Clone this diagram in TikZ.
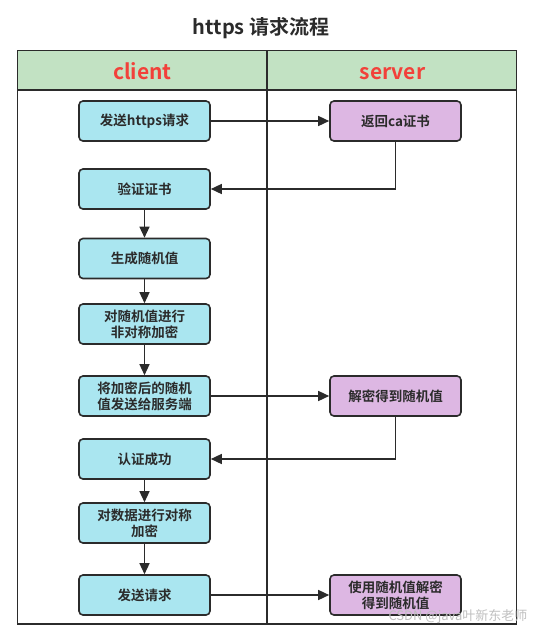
\documentclass[tikz,border=0pt]{standalone}
\usepackage{fontspec}
\setmainfont{Noto Sans CJK SC}
\newfontfamily\boldcjk{Noto Sans CJK SC Bold}
\usetikzlibrary{positioning,arrows.meta}
\definecolor{laneline}{HTML}{2B2B2B}
\definecolor{clientfill}{HTML}{AAE6F0}
\definecolor{serverfill}{HTML}{DDB7E3}
\definecolor{headfill}{HTML}{C2E2C3}
\definecolor{headtext}{HTML}{F2413A}
\tikzset{
  clientbox/.style={draw=laneline,line width=1.6pt,rounded corners=4pt,fill=clientfill,
    minimum width=131pt,minimum height=40pt,inner sep=0pt,align=center,
    text=laneline,font=\boldcjk\fontsize{13.5}{16}\selectfont},
  serverbox/.style={clientbox,fill=serverfill},
  flow/.style={draw=laneline,line width=1.4pt,-{Triangle[length=11pt,width=10pt]}},
  lanehead/.style={anchor=base,text=headtext,font=\boldcjk\fontsize{21}{24}\selectfont},
}

\begin{document}
\begin{tikzpicture}[x=1pt,y=-1pt]
\useasboundingbox (0,0) rectangle (552,641);
\pgfmathsetmacro{\clientx}{144.5}
\pgfmathsetmacro{\serverx}{395.5}
\fill[headfill] (17.5,50.5) rectangle (516.5,90);
\draw[laneline,line width=1.6pt] (17.5,50.5) rectangle (516.5,624);
\draw[laneline,line width=1.6pt] (17.5,90) -- (516.5,90);
\draw[laneline,line width=1.6pt] (267,50.5) -- (267,624);
\node[anchor=base,text=laneline,font=\boldcjk\fontsize{20}{22}\selectfont] (title) at (261,34) {https 请求流程};
\node[lanehead] (clienthead) at (142.5,79) {client};
\node[lanehead] (serverhead) at (392.5,79) {server};

\node[clientbox] (send) at (\clientx,121) {发送https请求};
\node[clientbox] (verify) at (\clientx,189) {验证证书};
\node[clientbox] (makekey) at (\clientx,258.5) {生成随机值};
\node[clientbox] (encrypt) at (\clientx,324) {对随机值进行\\非对称加密};
\node[clientbox] (sendkey) at (\clientx,396) {将加密后的随机\\值发送给服务端};
\node[clientbox] (authok) at (\clientx,459) {认证成功};
\node[clientbox] (encdata) at (\clientx,523) {对数据进行对称\\加密};
\node[clientbox] (sendreq) at (\clientx,595) {发送请求};

\node[serverbox] (cert) at (\serverx,121) {返回ca证书};
\node[serverbox] (decrypt) at (\serverx,396) {解密得到随机值};
\node[serverbox] (usekey) at (\serverx,595) {使用随机值解密\\得到随机值};

\draw[flow] (send) -- (cert);
\draw[flow] (cert.south) |- (verify.east);
\draw[flow] (verify) -- (makekey);
\draw[flow] (makekey) -- (encrypt);
\draw[flow] (encrypt) -- (sendkey);
\draw[flow] (sendkey) -- (decrypt);
\draw[flow] (decrypt.south) |- (authok.east);
\draw[flow] (authok) -- (encdata);
\draw[flow] (encdata) -- (sendreq);
\draw[flow] (sendreq) -- (usekey);

\node[anchor=east,text=gray!50,font=\fontsize{13}{13}\selectfont] (mark) at (531,617) {CSDN @java叶新东老师};
\end{tikzpicture}
\end{document}
